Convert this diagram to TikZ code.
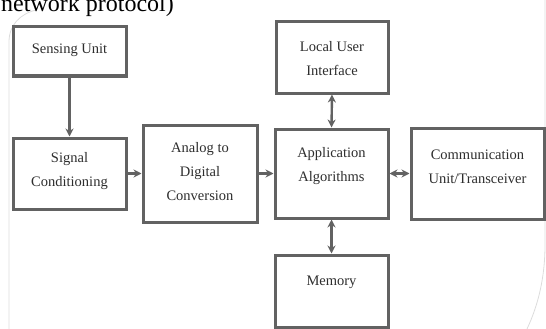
\documentclass[tikz,border=0pt]{standalone}
\usepackage{fontspec}
\setmainfont{Liberation Serif}
\usetikzlibrary{arrows.meta}
\definecolor{boxline}{HTML}{626262}
\definecolor{boxtext}{HTML}{2E2E2E}
\definecolor{frameline}{HTML}{DCDCDC}
\tikzset{
  block/.style={draw=boxline, line width=3pt, fill=white, inner sep=0pt},
  blocktext/.style={text=boxtext, align=center, font=\fontsize{14.5}{24}\selectfont, inner sep=0pt},
  flow/.style={draw=boxline, line width=2.4pt, -{Stealth[length=8pt,width=8pt]}},
  biflow/.style={draw=boxline, line width=2.4pt, {Stealth[length=8pt,width=8pt]}-{Stealth[length=8pt,width=8pt]}},
}
\begin{document}
\begin{tikzpicture}[x=1pt,y=-1pt]
\useasboundingbox (0,0) rectangle (546,329);
\clip (0,0) rectangle (546,329);

% faint page frame behind the diagram
\draw[frameline, line width=0.8pt] (9,340) -- (9,42) .. controls (9,25) and (20,14) .. (36,10);
\draw[frameline, line width=0.8pt] (545,0) -- (545,245) .. controls (545,280) and (537,310) .. (524,335);

% caption tail above the diagram
\node[anchor=base west, inner sep=0pt, font=\fontsize{24}{28}\selectfont] (caption) at (1,12) {network protocol)};

% blocks
\node[block, minimum width=113pt, minimum height=49pt] (sense) at (69.5,51.5) {};
\node[block, minimum width=113pt, minimum height=71pt] (signal) at (69.5,173.5) {};
\node[block, minimum width=114pt, minimum height=97pt] (adc) at (200,173.5) {};
\node[block, minimum width=113pt, minimum height=89pt] (app) at (331.5,173.5) {};
\node[block, minimum width=112pt, minimum height=71pt] (lui) at (332,57.5) {};
\node[block, minimum width=133pt, minimum height=91pt] (comm) at (477.5,173.5) {};
\node[block, minimum width=113pt, minimum height=72pt] (mem) at (331.5,291) {};

% block labels
\node[blocktext] (sense-t) at (69.5,50) {Sensing Unit};
\node[blocktext] (signal-t) at (69.5,171) {Signal\\Conditioning};
\node[blocktext] (adc-t) at (200,172) {Analog to\\Digital\\Conversion};
\node[blocktext] (app-t) at (331.5,166) {Application\\Algorithms};
\node[blocktext] (lui-t) at (332,59) {Local User\\Interface};
\node[blocktext] (comm-t) at (477.5,167) {Communication\\Unit/Transceiver};
\node[blocktext] (mem-t) at (331.5,282) {Memory};

% connectors
\draw[flow] (sense.south) -- (signal.north);
\draw[flow] (signal.east) -- (adc.west);
\draw[flow] (adc.east) -- (app.west);
\draw[biflow] (lui.south) -- (app.north);
\draw[biflow] (app.east) -- (comm.west);
\draw[biflow] (app.south) -- (mem.north);
\end{tikzpicture}
\end{document}
